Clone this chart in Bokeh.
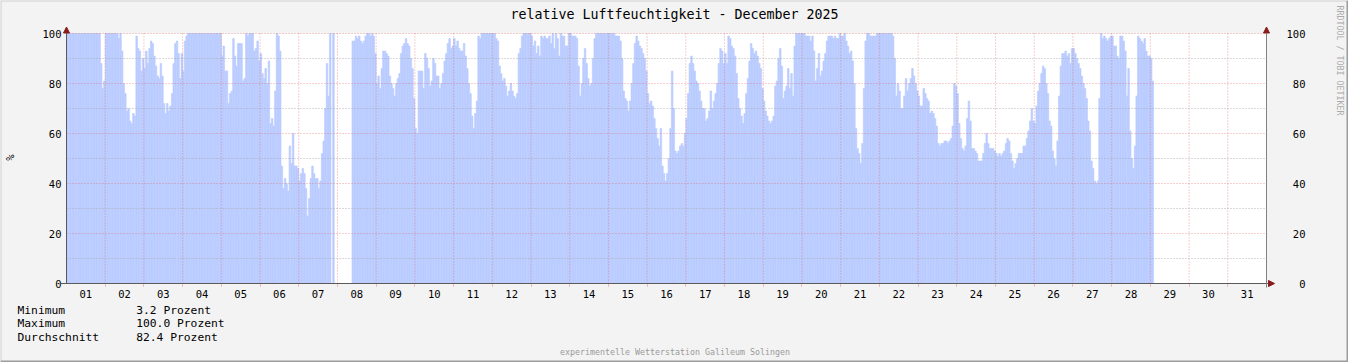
import math
from bokeh.plotting import figure
from bokeh.models import (Range1d, LinearAxis, FixedTicker, Label, Arrow,
                          NormalHead, ColumnDataSource, BoxAnnotation, Span)
from bokeh.embed import file_html
from bokeh.resources import INLINE

nan = float("nan")

title_text = "relative Luftfeuchtigkeit - December 2025"
y_unit = "%"
footer_text = "experimentelle Wetterstation Galileum Solingen"
watermark_text = "RRDTOOL / TOBI OETIKER"
day_labels = ["01", "02", "03", "04", "05", "06", "07", "08", "09", "10", "11",
              "12", "13", "14", "15", "16", "17", "18", "19", "20", "21", "22",
              "23", "24", "25", "26", "27", "28", "29", "30", "31"]
y_ticks = [0, 20, 40, 60, 80, 100]
y_minor = [10, 30, 50, 70, 90]
legend_names = ["Minimum", "Maximum", "Durchschnitt"]
legend_values = ["3.2 Prozent", "100.0 Prozent", "82.4 Prozent"]

# hourly relative humidity (%) per day of December 2025
d01 = [100, 100, 100, 100, 100, 100, 100, 100, 100, 100, 100, 100, 100, 100, 100, 100, 100, 100, 100, 100, 100, 88, 78, 81]
d02 = [100, 100, 100, 100, 100, 100, 100, 100, 98, 100, 93, 80, 76, 69, 70, 65, 64, 68, 67, 99, 94, 93, 85, 90]
d03 = [86, 93, 88, 94, 97, 96, 91, 87, 83, 82, 88, 83, 72, 68, 72, 69, 71, 76, 88, 96, 97, 92, 82, 92]
d04 = [85, 97, 99, 100, 100, 100, 100, 100, 100, 100, 100, 100, 100, 100, 100, 100, 100, 100, 100, 100, 100, 100, 100, 100]
d05 = [91, 95, 85, 85, 72, 76, 77, 98, 91, 87, 96, 96, 96, 81, 82, 100, 99, 100, 100, 100, 93, 94, 97, 89]
d06 = [92, 84, 82, 86, 80, 89, 64, 66, 63, 77, 100, 99, 93, 47, 38, 42, 40, 37, 55, 48, 60, 47, 47, 46]
d07 = [41, 44, 46, 44, 38, 27, 34, 42, 47, 44, 42, 42, 38, 41, 52, 57, 70, 88, 75, 100, nan, 100, nan, nan]
d08 = [nan, nan, nan, nan, nan, nan, nan, nan, nan, 97, 97, 99, 98, 99, 97, 96, 97, 99, 100, 100, 99, 100, 99, 92]
d09 = [80, 83, 78, 86, 93, 93, 92, 91, 83, 80, 78, 75, 80, 82, 84, 92, 95, 96, 98, 96, 95, 90, 86, 74]
d10 = [62, 60, 85, 85, 85, 78, 92, 90, 86, 79, 81, 90, 88, 83, 83, 78, 80, 84, 89, 92, 96, 98, 94, 95]
d11 = [98, 95, 97, 94, 93, 93, 96, 91, 86, 80, 76, 67, 62, 68, 73, 99, 98, 100, 100, 100, 100, 100, 100, 100]
d12 = [100, 100, 98, 97, 87, 84, 81, 82, 79, 75, 77, 80, 77, 75, 74, 76, 92, 94, 99, 100, 100, 100, 100, 100]
d13 = [99, 95, 97, 92, 95, 91, 99, 98, 99, 98, 98, 99, 96, 100, 94, 100, 98, 91, 100, 99, 99, 95, 95, 100]
d14 = [100, 99, 99, 99, 98, 87, 75, 80, 90, 94, 88, 82, 79, 80, 90, 98, 100, 100, 100, 100, 100, 100, 100, 100]
d15 = [100, 100, 100, 100, 99, 99, 99, 97, 90, 77, 74, 73, 69, 73, 80, 88, 96, 99, 97, 95, 94, 92, 90, 85]
d16 = [76, 72, 73, 71, 66, 62, 58, 55, 62, 47, 44, 41, 44, 50, 62, 85, 70, 53, 52, 53, 55, 56, 55, 60]
d17 = [66, 76, 88, 91, 88, 85, 81, 80, 77, 73, 70, 70, 65, 66, 69, 77, 70, 73, 76, 80, 88, 94, 93, 88]
d18 = [92, 88, 99, 98, 95, 94, 91, 84, 74, 70, 67, 64, 68, 76, 82, 89, 96, 94, 92, 93, 91, 88, 86, 78]
d19 = [73, 69, 67, 65, 64, 65, 67, 79, 81, 90, 94, 87, 74, 77, 79, 86, 78, 84, 75, 95, 100, 100, 100, 100]
d20 = [100, 100, 99, 99, 99, 97, 99, 93, 81, 86, 92, 83, 85, 89, 92, 97, 99, 99, 99, 98, 99, 98, 98, 100]
d21 = [99, 99, 100, 97, 95, 92, 93, 89, 80, 62, 54, 52, 48, 56, 78, 97, 100, 100, 99, 99, 99, 99, 100, 100]
d22 = [100, 100, 100, 100, 100, 100, 100, 100, 99, 90, 75, 80, 77, 70, 70, 75, 82, 77, 80, 82, 86, 83, 80, 77]
d23 = [75, 71, 71, 78, 76, 74, 73, 68, 69, 68, 66, 63, 56, 55, 56, 56, 57, 57, 56, 57, 58, 63, 80, 79]
d24 = [76, 64, 58, 54, 53, 55, 66, 73, 65, 54, 54, 53, 52, 49, 49, 49, 52, 56, 60, 56, 54, 54, 54, 53]
d25 = [52, 51, 52, 51, 52, 53, 56, 58, 57, 52, 49, 46, 48, 50, 52, 52, 52, 55, 55, 58, 61, 65, 70, 65]
d26 = [64, 71, 77, 80, 84, 87, 86, 80, 76, 65, 63, 53, 50, 47, 57, 75, 87, 92, 92, 93, 91, 92, 88, 94]
d27 = [94, 92, 90, 88, 86, 83, 80, 78, 74, 65, 61, 49, 46, 41, 40, 41, 74, 100, 98, 99, 98, 97, 98, 99]
d28 = [99, 95, 95, 91, 90, 99, 99, 97, 93, 75, 86, 61, 50, 46, 55, 75, 99, 98, 97, 96, 98, 93, 91, 91]
d29 = [90, 81]

days = [d01, d02, d03, d04, d05, d06, d07, d08, d09, d10, d11, d12, d13, d14,
        d15, d16, d17, d18, d19, d20, d21, d22, d23, d24, d25, d26, d27, d28, d29]

xs, tops = [], []
for di, vals in enumerate(days):
    for h, v in enumerate(vals):
        if v == v:  # skip NaN (no data)
            xs.append(di + (h + 0.5) / 24.0)
            tops.append(v)
src = ColumnDataSource(dict(x=xs, top=tops))

n_days = len(day_labels)
y_max = y_ticks[-1]

# ---- layout constants (pixels) ----
W, H = 1348, 362
PL, PR, PT, PB = 66, 1266, 33, 283          # plot area edges on the canvas
ppx = (PR - PL) / n_days                     # pixels per day
ppy = (PB - PT) / y_max                      # pixels per percent

MONO = "DejaVu Sans Mono"
AREA = "#BBCCFF"
AXIS = "#5a5a5a"
ARROWC = "#8B1A1A"
MGRID = "#E06060"
GRID = "#A8A8A8"

p = figure(width=W, height=H,
           x_range=Range1d(-PL / ppx, n_days + (W - PR) / ppx),
           y_range=Range1d(-(H - PB) / ppy, y_max + PT / ppy),
           output_backend="svg", toolbar_location=None,
           x_axis_type=None, y_axis_type=None, min_border=0)
p.background_fill_color = "#F3F3F3"
p.border_fill_color = "#F3F3F3"
p.outline_line_color = None
p.grid.visible = False

# white canvas of the graph
p.add_layout(BoxAnnotation(left=0, right=n_days, bottom=0, top=y_max, level="underlay",
                           fill_color="white", fill_alpha=1.0, line_color=None))

# data
p.vbar(x="x", top="top", bottom=0, width=1 / 24.0, source=src,
       fill_color=AREA, line_color=AREA, line_width=0.6)

# grid lines (over the area, as rrdtool does)
centers = [i + 0.5 for i in range(n_days)]
bounds = [float(i) for i in range(1, n_days)]
p.segment(x0=bounds, y0=[0] * len(bounds), x1=bounds, y1=[y_max] * len(bounds),
          line_color=MGRID, line_alpha=0.6, line_dash="1 2", line_width=1)
p.segment(x0=[0] * len(y_minor), y0=y_minor, x1=[n_days] * len(y_minor), y1=y_minor,
          line_color=GRID, line_alpha=0.85, line_dash="1 2", line_width=1)
p.segment(x0=[0] * 5, y0=y_ticks[1:], x1=[n_days] * 5, y1=y_ticks[1:],
          line_color=MGRID, line_alpha=0.6, line_dash="1 2", line_width=1)

# axes at fixed locations
xaxis = LinearAxis(ticker=FixedTicker(ticks=centers, minor_ticks=bounds),
                   fixed_location=0, bounds=(0, n_days),
                   major_label_overrides={c: lab for c, lab in zip(centers, day_labels)},
                   major_label_text_font=MONO, major_label_text_font_size="10.5px",
                   major_label_text_color="black",
                   major_tick_out=0, major_tick_in=0, minor_tick_in=0, minor_tick_out=3,
                   minor_tick_line_color=MGRID, minor_tick_line_alpha=0.7,
                   minor_tick_line_dash="1 1",
                   major_label_standoff=3, axis_line_color=AXIS)
p.add_layout(xaxis, "below")

laxis = LinearAxis(ticker=FixedTicker(ticks=y_ticks, minor_ticks=y_minor),
                   fixed_location=0, bounds=(0, y_max),
                   major_label_text_font=MONO, major_label_text_font_size="10.5px",
                   major_label_text_color="black",
                   major_tick_out=0, major_tick_in=0, minor_tick_out=0, minor_tick_in=0,
                   major_label_standoff=5, axis_line_color=AXIS)
p.add_layout(laxis, "left")

nb = "\u00a0"
raxis = LinearAxis(ticker=FixedTicker(ticks=y_ticks, minor_ticks=y_minor),
                   fixed_location=n_days, bounds=(0, y_max),
                   major_label_overrides={t: (nb * (3 - len(str(t)))) + str(t) for t in y_ticks},
                   major_label_text_font=MONO, major_label_text_font_size="10.5px",
                   major_label_text_color="black",
                   major_tick_out=0, major_tick_in=0, minor_tick_out=0, minor_tick_in=0,
                   major_label_standoff=20, axis_line_color="#808080")
p.add_layout(raxis, "right")

# axis extensions with arrow heads
p.add_layout(Arrow(x_start=-6 / ppx, y_start=0, x_end=n_days + 8 / ppx, y_end=0,
                   line_color=AXIS, line_width=1,
                   end=NormalHead(size=6, fill_color=ARROWC, line_color=ARROWC)))
p.add_layout(Arrow(x_start=0, y_start=0, x_end=0, y_end=y_max + 6.5 / ppy,
                   line_color=AXIS, line_width=1,
                   end=NormalHead(size=6, fill_color=ARROWC, line_color=ARROWC)))
p.add_layout(Arrow(x_start=n_days, y_start=-4 / ppy, x_end=n_days, y_end=y_max + 6.5 / ppy,
                   line_color="#808080", line_width=1,
                   end=NormalHead(size=6, fill_color=ARROWC, line_color=ARROWC)))

# outer frame of the image
p.add_layout(Span(location=p.y_range.end, dimension="width", line_color="#CFCFCF", line_width=2))
p.add_layout(Span(location=p.x_range.start, dimension="height", line_color="#CFCFCF", line_width=2))
p.add_layout(Span(location=p.y_range.start, dimension="width", line_color="#9C9C9C", line_width=4))
p.add_layout(Span(location=p.x_range.end, dimension="height", line_color="#9C9C9C", line_width=4))


# texts, placed in canvas pixels (X from left, Y from top)
def add_text(txt, X, Y, size, color="black", align="left", angle=0.0):
    p.add_layout(Label(x=X, y=H - Y, x_units="screen", y_units="screen", text=txt,
                       text_font=MONO, text_font_size=size, text_color=color,
                       text_align=align, text_baseline="middle", angle=angle))


add_text(title_text, 674, 14, "13.3px", align="center")
add_text(y_unit, 9, 157, "10.5px", align="center", angle=math.pi / 2)
add_text(footer_text, 674.5, 351, "8.3px", color="#9A9A9A", align="center")
add_text(watermark_text, 1339.7, 60, "8.3px", color="#ABABAB", align="center", angle=-math.pi / 2)
for i, (n, v) in enumerate(zip(legend_names, legend_values)):
    add_text(n, 17, 309.5 + 13.8 * i, "11.3px")
    add_text(v, 135.7, 309.5 + 13.8 * i, "11.3px")

open("out.html", "w").write(file_html(p, INLINE))
